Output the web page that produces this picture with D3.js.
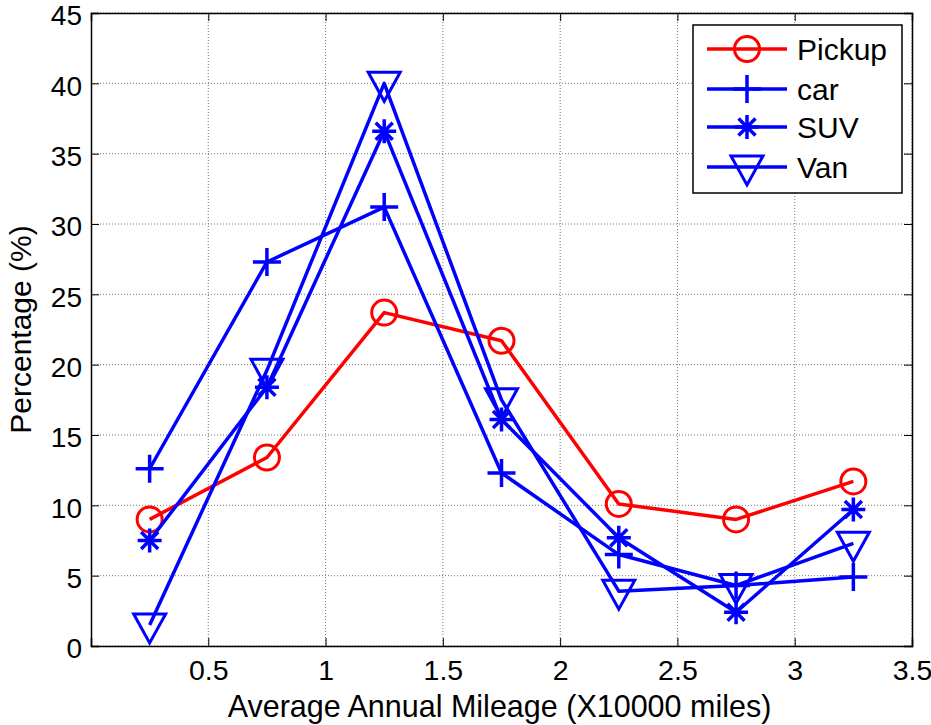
<!DOCTYPE html>
<html>
<head>
<meta charset="utf-8">
<script src="https://cdn.jsdelivr.net/npm/d3@7"></script>
<style>
  body { margin: 0; background: #fff; }
  text { font-family: 'Liberation Sans', Arial, sans-serif; }
</style>
</head>
<body>
<div id="chart"></div>
<script>
// data
const mileage = [0.25, 0.75, 1.25, 1.75, 2.25, 2.75, 3.25]
const pickup = [9.0, 13.4, 23.7, 21.7, 10.1, 9.0, 11.7]
const car = [12.6, 27.3, 31.2, 12.3, 6.5, 4.3, 4.9]
const suv = [7.5, 18.4, 36.6, 16.1, 7.7, 2.4, 9.7]
const van = [1.5, 19.6, 40.0, 17.5, 3.9, 4.3, 7.3]
const xTicks = [0.5, 1, 1.5, 2, 2.5, 3, 3.5]
const yTicks = [0, 5, 10, 15, 20, 25, 30, 35, 40, 45]

const seriesList = [
  { name: 'Pickup', values: pickup, color: '#ff0000', marker: 'circle' },
  { name: 'car', values: car, color: '#0000ff', marker: 'plus' },
  { name: 'SUV', values: suv, color: '#0000ff', marker: 'star' },
  { name: 'Van', values: van, color: '#0000ff', marker: 'triangle' },
]

const dimensions = {
  width: 931,
  height: 725,
  margin: { top: 13, right: 19, bottom: 79, left: 91 },
}
dimensions.ctrWidth = dimensions.width - dimensions.margin.left - dimensions.margin.right
dimensions.ctrHeight = dimensions.height - dimensions.margin.top - dimensions.margin.bottom

const svg = d3
  .select('#chart')
  .append('svg')
  .attr('width', dimensions.width)
  .attr('height', dimensions.height)

const ctr = svg
  .append('g')
  .attr('transform', `translate(${dimensions.margin.left}, ${dimensions.margin.top})`)

const xScale = d3.scaleLinear().domain([0, 3.5]).range([0, dimensions.ctrWidth])
const yScale = d3.scaleLinear().domain([0, 45]).range([dimensions.ctrHeight, 0])

// grid lines (dotted, like matlab grid on)
ctr
  .append('g')
  .selectAll('line')
  .data(xTicks)
  .join('line')
  .attr('x1', (d) => xScale(d))
  .attr('x2', (d) => xScale(d))
  .attr('y1', 0)
  .attr('y2', dimensions.ctrHeight)
  .attr('stroke', '#555')
  .attr('stroke-width', 0.8)
  .attr('stroke-dasharray', '1,2')

ctr
  .append('g')
  .selectAll('line')
  .data(yTicks)
  .join('line')
  .attr('x1', 0)
  .attr('x2', dimensions.ctrWidth)
  .attr('y1', (d) => yScale(d))
  .attr('y2', (d) => yScale(d))
  .attr('stroke', '#555')
  .attr('stroke-width', 0.8)
  .attr('stroke-dasharray', '1,2')

// axes with inward ticks on all four sides
const tickLen = 8
const xAxis = d3.axisBottom(xScale).tickValues(xTicks).tickSize(-tickLen).tickPadding(14).tickFormat(d3.format('~g'))
const yAxis = d3.axisLeft(yScale).tickValues(yTicks).tickSize(-tickLen).tickPadding(9).tickFormat(d3.format('~g'))

const xAxisGroup = ctr
  .append('g')
  .attr('transform', `translate(0, ${dimensions.ctrHeight})`)
  .call(xAxis)
const yAxisGroup = ctr.append('g').call(yAxis)

ctr
  .append('g')
  .call(d3.axisTop(xScale).tickValues(xTicks).tickSize(-tickLen).tickFormat(''))
ctr
  .append('g')
  .attr('transform', `translate(${dimensions.ctrWidth}, 0)`)
  .call(d3.axisRight(yScale).tickValues(yTicks).tickSize(-tickLen).tickFormat(''))

svg.selectAll('.domain').attr('stroke', '#000').attr('stroke-width', 1.5)
svg.selectAll('.tick line').attr('stroke', '#000').attr('stroke-width', 1)
xAxisGroup.selectAll('text').attr('font-size', 28.5).attr('fill', '#000')
yAxisGroup.selectAll('text').attr('font-size', 28).attr('fill', '#000').attr('dy', '0.42em')

// axis labels
svg
  .append('text')
  .attr('x', dimensions.margin.left + dimensions.ctrWidth / 2 - 2)
  .attr('y', 717)
  .attr('text-anchor', 'middle')
  .attr('font-size', 30.5)
  .attr('fill', '#000')
  .text('Average Annual Mileage (X10000 miles)')

svg
  .append('text')
  .attr('transform', `translate(31, ${dimensions.margin.top + dimensions.ctrHeight / 2}) rotate(-90)`)
  .attr('text-anchor', 'middle')
  .attr('font-size', 30)
  .attr('fill', '#000')
  .text('Percentage (%)')

// marker drawing
const drawMarker = (g, type, color) => {
  if (type === 'circle') {
    g.append('circle').attr('r', 12.5).attr('fill', 'none').attr('stroke', color).attr('stroke-width', 3)
  } else if (type === 'plus') {
    g.append('path').attr('d', 'M-14,0H14M0,-14V14').attr('stroke', color).attr('stroke-width', 3.5)
  } else if (type === 'star') {
    g.append('path')
      .attr('d', 'M-12,0H12M0,-12V12M-8.5,-8.5L8.5,8.5M-8.5,8.5L8.5,-8.5')
      .attr('stroke', color)
      .attr('stroke-width', 3.5)
  } else if (type === 'triangle') {
    g.append('path')
      .attr('d', 'M-16,-11L16,-11L0,18Z')
      .attr('fill', 'none')
      .attr('stroke', color)
      .attr('stroke-width', 3)
  }
}

const lineGenerator = d3
  .line()
  .x((d, i) => xScale(mileage[i]))
  .y((d) => yScale(d))

seriesList.forEach((s) => {
  ctr
    .append('path')
    .datum(s.values)
    .attr('d', lineGenerator)
    .attr('fill', 'none')
    .attr('stroke', s.color)
    .attr('stroke-width', 3.5)
    .attr('stroke-linejoin', 'round')

  ctr
    .append('g')
    .selectAll('g')
    .data(s.values)
    .join('g')
    .attr('transform', (d, i) => `translate(${xScale(mileage[i])}, ${yScale(d)})`)
    .each(function () {
      drawMarker(d3.select(this), s.marker, s.color)
    })
})

// legend
const legend = svg.append('g').attr('transform', 'translate(693, 25)')
legend
  .append('rect')
  .attr('width', 209)
  .attr('height', 168)
  .attr('fill', '#fff')
  .attr('stroke', '#000')
  .attr('stroke-width', 1.5)

const legendY = [24, 64, 102, 142]
seriesList.forEach((s, i) => {
  const row = legend.append('g').attr('transform', `translate(0, ${legendY[i]})`)
  row
    .append('line')
    .attr('x1', 14)
    .attr('x2', 94)
    .attr('stroke', s.color)
    .attr('stroke-width', 3.5)
  drawMarker(row.append('g').attr('transform', 'translate(54, 0)'), s.marker, s.color)
  row
    .append('text')
    .attr('x', 104)
    .attr('y', 11)
    .attr('font-size', 30)
    .attr('fill', '#000')
    .text(s.name)
})
</script>
</body>
</html>
